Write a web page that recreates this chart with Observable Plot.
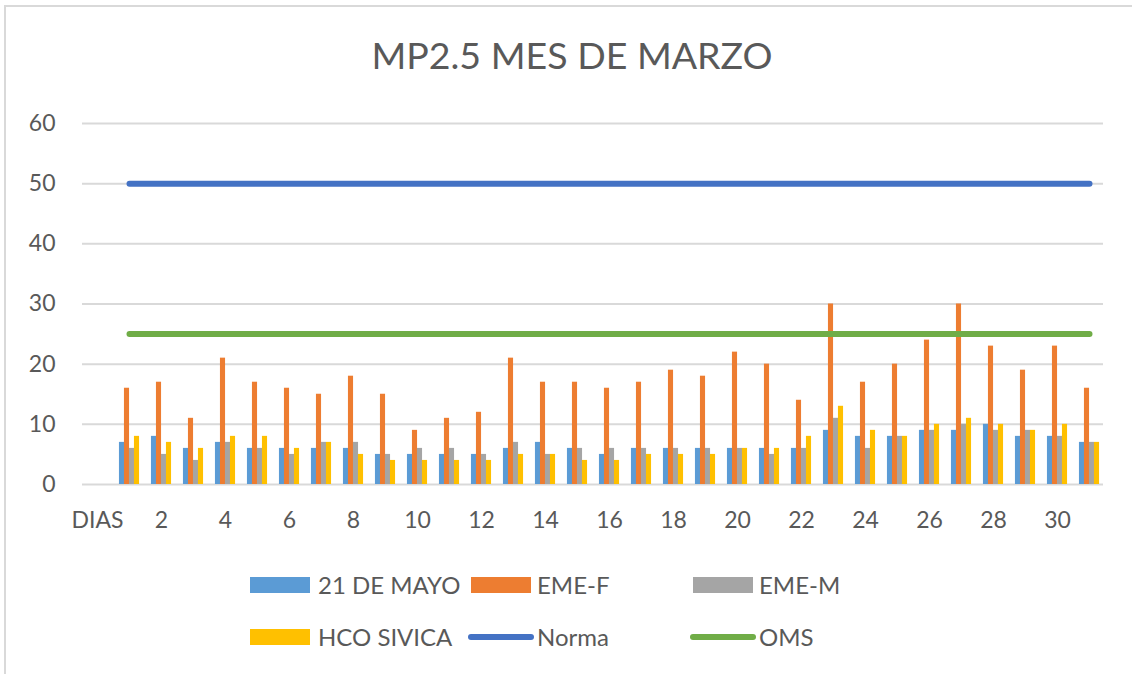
<!DOCTYPE html>
<html>
<head>
<meta charset="utf-8">
<script src="https://cdn.jsdelivr.net/npm/d3@7"></script>
<script src="https://cdn.jsdelivr.net/npm/@observablehq/plot@0.6"></script>
<style>
  html, body { margin: 0; padding: 0; background: #fff; }
  body { width: 1132px; height: 674px; position: relative; overflow: hidden; font-family: Lato, "Open Sans", sans-serif; color: #595959; }
  #frame { position: absolute; left: 4px; top: 5px; width: 1140px; height: 680px; border: 2px solid #d9d9d9; box-sizing: border-box; }
  #title { position: absolute; left: 0; width: 1144px; top: 36px; text-align: center; font-size: 37.5px; line-height: 1; color: #595959; }
  #chart { position: absolute; left: 0; top: 0; }
  .leg { position: absolute; font-size: 24px; line-height: 1; color: #595959; white-space: nowrap; }
  .sw { position: absolute; }
</style>
</head>
<body>
<div id="frame"></div>
<div id="chart"></div>
<div id="title"></div>
<div id="legend"></div>
<script>
const titleText = "MP2.5 MES DE MARZO";
const categories = ["DIAS","1","2","3","4","5","6","7","8","9","10","11","12","13","14","15","16","17","18","19","20","21","22","23","24","25","26","27","28","29","30","31"];
const days = ["1","2","3","4","5","6","7","8","9","10","11","12","13","14","15","16","17","18","19","20","21","22","23","24","25","26","27","28","29","30","31"];
const xTickLabels = ["DIAS","2","4","6","8","10","12","14","16","18","20","22","24","26","28","30"];
const yTicks = [0,10,20,30,40,50,60];

const mayo = [7,8,6,7,6,6,6,6,5,5,5,5,6,7,6,5,6,6,6,6,6,6,9,8,8,9,9,10,8,8,7];
const emeF = [16,17,11,21,17,16,15,18,15,9,11,12,21,17,17,16,17,19,18,22,20,14,30,17,20,24,30,23,19,23,16];
const emeM = [6,5,4,7,6,5,7,7,5,6,6,5,7,5,6,6,6,6,6,6,5,6,11,6,8,9,10,9,9,8,7];
const hco  = [8,7,6,8,8,6,7,5,4,4,4,4,5,5,4,4,5,5,5,6,6,8,13,9,8,10,11,10,9,10,7];
const norma = [50,50,50,50,50,50,50,50,50,50,50,50,50,50,50,50,50,50,50,50,50,50,50,50,50,50,50,50,50,50,50];
const oms   = [25,25,25,25,25,25,25,25,25,25,25,25,25,25,25,25,25,25,25,25,25,25,25,25,25,25,25,25,25,25,25];

const barSeries = [
  {name: "21 DE MAYO", values: mayo, color: "#5B9BD5"},
  {name: "EME-F", values: emeF, color: "#ED7D31"},
  {name: "EME-M", values: emeM, color: "#A5A5A5"},
  {name: "HCO SIVICA", values: hco, color: "#FFC000"}
];
const lineSeries = [
  {name: "Norma", values: norma, color: "#4472C4"},
  {name: "OMS", values: oms, color: "#70AD47"}
];

document.getElementById("title").textContent = titleText;

const barW = 5;
const marks = [
  Plot.gridY(yTicks, {stroke: "#d9d9d9", strokeOpacity: 1, strokeWidth: 2})
];
barSeries.forEach((s, i) => {
  const rows = days.map((d, j) => ({day: d, value: s.values[j]}));
  marks.push(Plot.barY(rows, {
    x: "day", y: "value", fill: s.color,
    insetLeft: 13.45, insetRight: 13.45,
    dx: (i - 1.5) * barW
  }));
});
lineSeries.forEach(s => {
  const rows = days.map((d, j) => ({day: d, value: s.values[j]}));
  marks.push(Plot.line(rows, {
    x: "day", y: "value", stroke: s.color, strokeWidth: 6, strokeLinecap: "round"
  }));
});
marks.push(Plot.axisY({ticks: yTicks, tickSize: 0, tickPadding: 27, fontSize: 23, fill: "#595959", label: null}));
marks.push(Plot.axisX({ticks: xTickLabels, tickSize: 0, tickPadding: 27, fontSize: 23, fill: "#595959", label: null}));

const chart = Plot.plot({
  width: 1132,
  height: 560,
  marginTop: 123,
  marginBottom: 76,
  marginLeft: 82,
  marginRight: 29,
  style: {fontFamily: "Lato, 'Open Sans', sans-serif", background: "transparent", overflow: "visible"},
  x: {type: "band", domain: categories, paddingInner: 0, paddingOuter: 0, align: 0.5, range: [66.05, 1118.95]},
  y: {domain: [0, 60]},
  marks
});
document.getElementById("chart").appendChild(chart);

// Legend
const legend = document.getElementById("legend");
const legendItems = [
  {s: barSeries[0], kind: "bar", x: 250, y: 585, tx: 318},
  {s: barSeries[1], kind: "bar", x: 471, y: 585, tx: 537},
  {s: barSeries[2], kind: "bar", x: 693, y: 585, tx: 759},
  {s: barSeries[3], kind: "bar", x: 250, y: 637, tx: 318},
  {s: lineSeries[0], kind: "line", x: 468, y: 637, tx: 537},
  {s: lineSeries[1], kind: "line", x: 690, y: 637, tx: 759}
];
legendItems.forEach(it => {
  const sw = document.createElement("div");
  sw.className = "sw";
  if (it.kind === "bar") {
    Object.assign(sw.style, {left: it.x + "px", top: (it.y - 8) + "px", width: "60px", height: "16px", background: it.s.color});
  } else {
    Object.assign(sw.style, {left: it.x + "px", top: (it.y - 3) + "px", width: "66px", height: "6px", background: it.s.color, borderRadius: "3px"});
  }
  legend.appendChild(sw);
  const t = document.createElement("div");
  t.className = "leg";
  t.textContent = it.s.name;
  Object.assign(t.style, {left: it.tx + "px", top: (it.y - 12) + "px"});
  legend.appendChild(t);
});
</script>
</body>
</html>
